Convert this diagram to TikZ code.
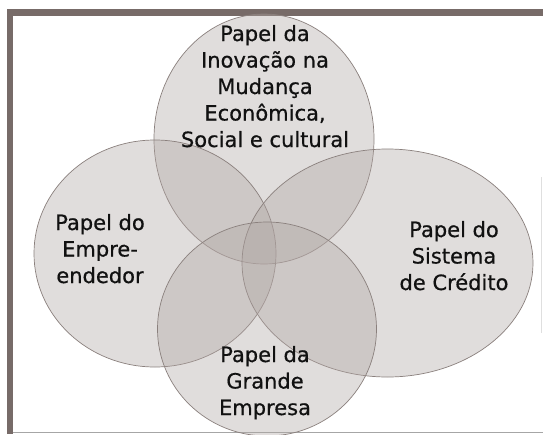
\documentclass[tikz,border=0pt]{standalone}
\usepackage{fontspec}
\newfontfamily\lblfont{DejaVu Sans}[FakeBold=0.6]
\definecolor{framec}{HTML}{776B68}
\definecolor{edgec}{HTML}{8A807D}
\definecolor{fillc}{HTML}{B0A6A3}
\definecolor{txtc}{HTML}{111111}
\tikzset{
  blob/.style={draw=edgec, line width=0.7pt, fill=fillc, fill opacity=0.38},
  lbl/.style={align=center, anchor=base, inner sep=0pt, text=txtc,
    font=\lblfont\fontsize{21}{26.5}\selectfont}
}
\begin{document}
\begin{tikzpicture}[x=1pt,y=-1pt]
\useasboundingbox (0,0) rectangle (543,434);
\fill[white] (0,0) rectangle (543,434);
% frame
\fill[framec] (7,9) rectangle (543,16);
\fill[framec] (7,9) rectangle (13,434);
\draw[gray!70, line width=1pt] (13,432.5) -- (543,432.5);
\draw[gray!25, line width=1pt] (541.5,177) -- (541.5,333);
% circles
\path[blob] (264,139) ellipse [x radius=110, y radius=125];
\path[blob] (155,253.5) ellipse [x radius=121, y radius=113.5];
\path[blob] (387.5,263) ellipse [x radius=145.5, y radius=114];
\path[blob] (267,329) ellipse [x radius=109.5, y radius=107];
% labels (anchor = baseline of last line)
\node[lbl] (inov) at (265,147) {Papel da\\Inovação na\\Mudança\\Econômica,\\Social e cultural};
\node[lbl] (empr) at (100,283) {Papel do\\Empre-\\endedor};
\node[lbl] (cred) at (454,290) {Papel do\\Sistema\\de Crédito};
\node[lbl] (gran) at (265,415) {Papel da\\Grande\\Empresa};
\end{tikzpicture}
\end{document}
